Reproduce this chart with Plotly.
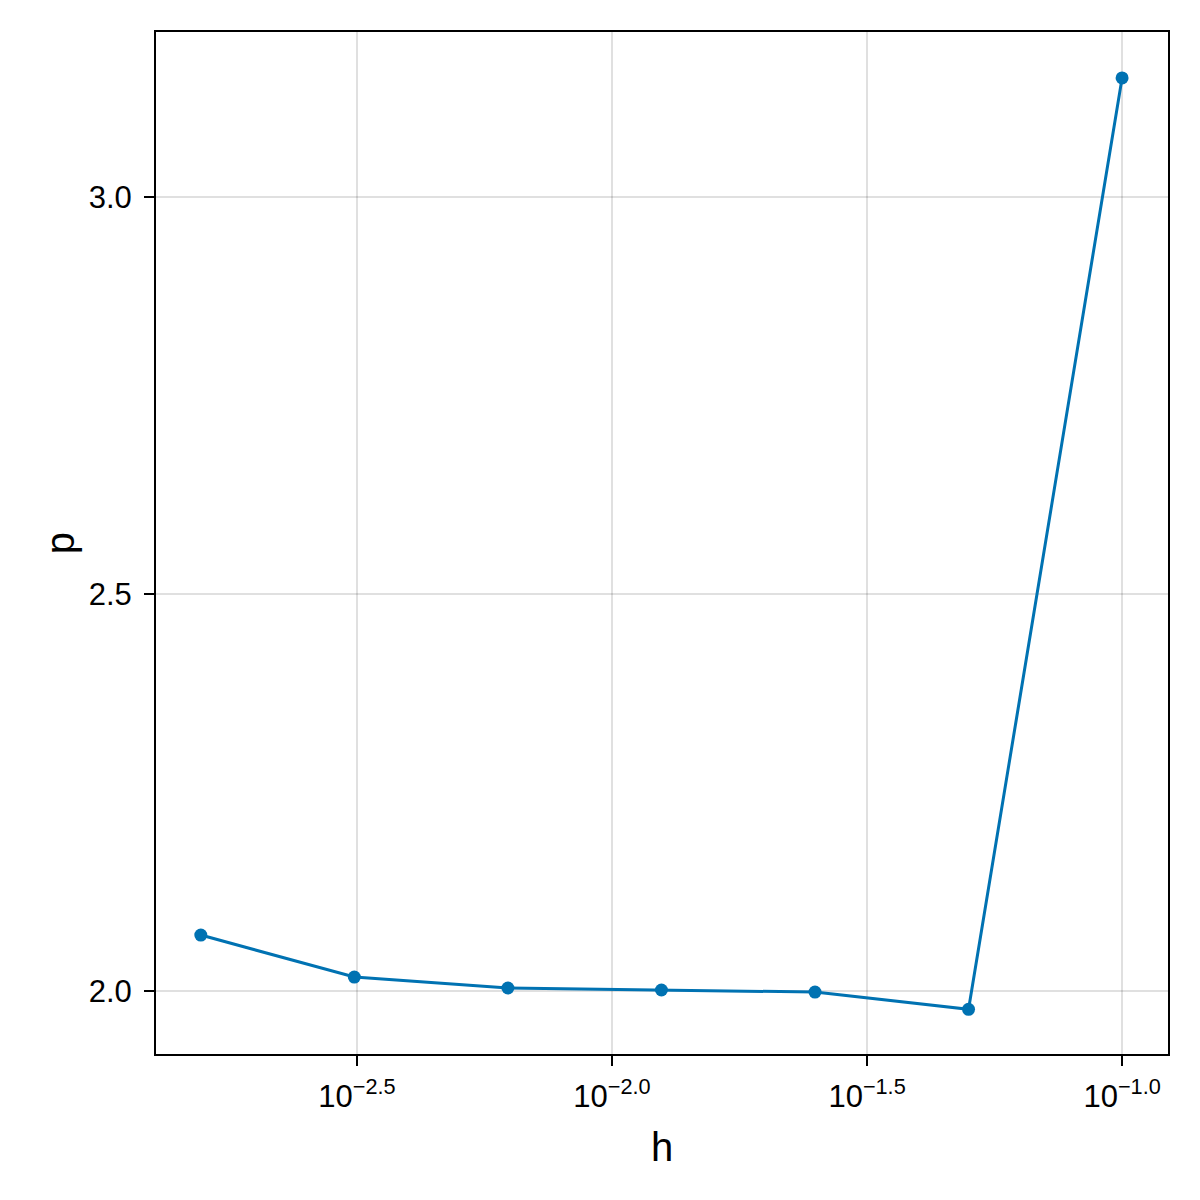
import plotly.graph_objects as go

h_vals = [0.0015625, 0.003125, 0.00625, 0.0125, 0.025, 0.05, 0.1]
p_vals = [2.0705, 2.0176, 2.0038, 2.0013, 1.9987, 1.977, 3.150]

x_tickvals = [10 ** -2.5, 10 ** -2.0, 10 ** -1.5, 10 ** -1.0]
x_ticktext = ["10<sup>−2.5</sup>", "10<sup>−2.0</sup>", "10<sup>−1.5</sup>", "10<sup>−1.0</sup>"]
y_tickvals = [2.0, 2.5, 3.0]
y_ticktext = ["2.0", "2.5", "3.0"]

color = "#0072B2"

fig = go.Figure()
fig.add_trace(go.Scatter(
    x=h_vals, y=p_vals, mode="lines+markers",
    line=dict(color=color, width=3),
    marker=dict(color=color, size=13),
    showlegend=False,
))

font_family = "Liberation Sans, Arial, sans-serif"

fig.update_layout(
    width=1200, height=1200,
    margin=dict(l=148, r=40, t=24, b=154),
    paper_bgcolor="white", plot_bgcolor="white",
    font=dict(family=font_family, color="black"),
    xaxis=dict(
        type="log", range=[-2.894, -0.910],
        tickvals=x_tickvals, ticktext=x_ticktext,
        tickfont=dict(size=31),
        ticklabelstandoff=4,
        showgrid=True, gridcolor="rgba(0,0,0,0.12)", gridwidth=1.5,
        showline=True, linecolor="black", linewidth=2, mirror=True,
        ticks="outside", ticklen=10, tickwidth=1.5, tickcolor="black",
        zeroline=False,
        title=dict(text="h", font=dict(size=40), standoff=20),
    ),
    yaxis=dict(
        range=[1.9207, 3.2078],
        tickvals=y_tickvals, ticktext=y_ticktext,
        tickfont=dict(size=31),
        ticklabelstandoff=6,
        showgrid=True, gridcolor="rgba(0,0,0,0.12)", gridwidth=1.5,
        showline=True, linecolor="black", linewidth=2, mirror=True,
        ticks="outside", ticklen=10, tickwidth=1.5, tickcolor="black",
        zeroline=False,
        title=dict(text="p", font=dict(size=40), standoff=2),
    ),
)

fig.write_html("out.html")
